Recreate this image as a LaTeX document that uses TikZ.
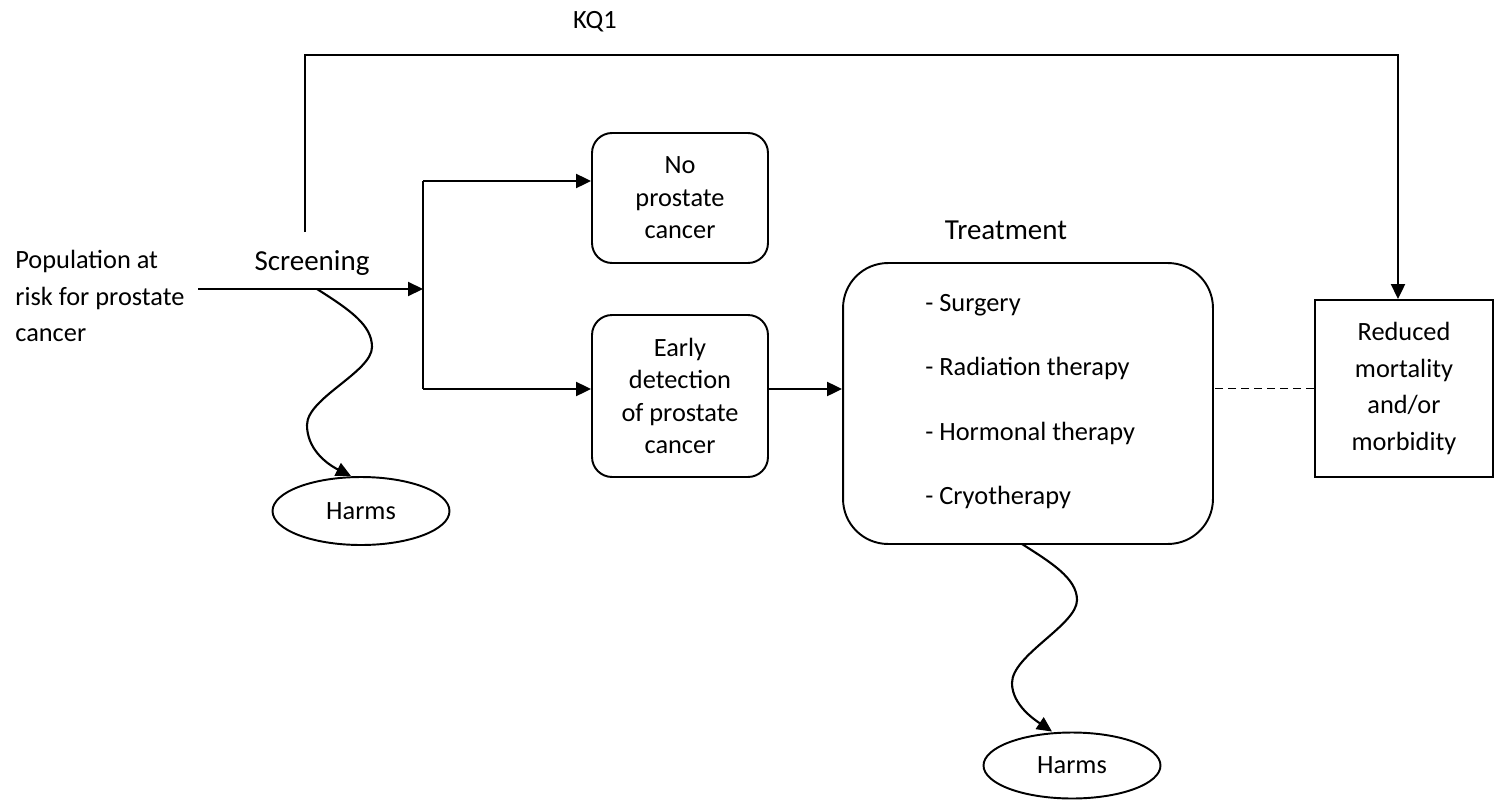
\documentclass[tikz,border=0pt]{standalone}
\usepackage{fontspec}
\setmainfont{Carlito}
\usetikzlibrary{shapes.geometric}
\usetikzlibrary{positioning}
\usetikzlibrary{arrows.meta}

\newcommand{\bodysize}{\fontsize{15}{18.5}\selectfont}
\newcommand{\widesize}{\fontsize{15}{21}\selectfont}
\newcommand{\headsize}{\fontsize{16.5}{20}\selectfont}

\tikzset{
  flow/.style={line width=1.2pt, -{Triangle[length=0.3cm,width=0.28cm]}},
  plainline/.style={line width=1.2pt},
  stagebox/.style={draw, line width=1.1pt, rounded corners=0.4cm, align=center,
    minimum width=3.52cm, font=\bodysize},
  harmsbox/.style={draw, ellipse, line width=1.1pt, minimum width=3.54cm,
    inner sep=0pt, font=\bodysize},
  outcomebox/.style={draw, line width=1.1pt, align=center, minimum width=3.56cm,
    minimum height=3.54cm, font=\widesize},
  item/.style={anchor=west, inner sep=0pt, font=\bodysize}
}

\begin{document}
\begin{tikzpicture}[x=0.02cm, y=-0.02cm]
\useasboundingbox (0,0) rectangle (1494,801);

% labels
\node[font=\bodysize] (kq) at (595,22) {KQ1};
\node[anchor=west, align=left, inner sep=0pt, font=\widesize] (pop) at (15,296)
  {Population at\\risk for prostate\\cancer};
\node[font=\headsize] (screen) at (312,263) {Screening};
\node[font=\headsize] (treatlabel) at (1006,230) {Treatment};

% boxes
\node[stagebox, minimum height=2.6cm] (nocancer) at (680,198) {No\\prostate\\cancer};
\node[stagebox, minimum height=3.24cm] (early) at (680,396)
  {Early\\detection\\of prostate\\cancer};
\node[draw, line width=1.1pt, rounded corners=0.9cm, minimum width=7.4cm,
  minimum height=5.62cm] (treat) at (1028,403.5) {};
\node[item] (surg) at (925,305) {- Surgery};
\node[item] (rad) at (925,368) {- Radiation therapy};
\node[item] (horm) at (925,433) {- Hormonal therapy};
\node[item] (cryo) at (925,497) {- Cryotherapy};
\node[outcomebox] (reduced) at (1404,388.5)
  {Reduced\\mortality\\and/or\\morbidity};
\node[harmsbox, minimum height=1.36cm] (harms1) at (361,511) {Harms};
\node[harmsbox, minimum height=1.32cm] (harms2) at (1072,765.5) {Harms};

% junction points
\coordinate (start) at (198,289);
\coordinate (split) at (423,289);
\coordinate (splittop) at (423,181);
\coordinate (splitbot) at (423,389);
\coordinate (kqstart) at (305,232);
\coordinate (kqtop) at (305,55);
\coordinate (kqdown) at (1398,55);
\coordinate (wig1) at (317,289);
\coordinate (wig2) at (1022,544);

% connectors
\draw[flow] (start) -- (split);
\draw[plainline] (splittop) -- (splitbot);
\draw[flow] (splittop) -- (nocancer.west |- splittop);
\draw[flow] (splitbot) -- (early.west |- splitbot);
\draw[flow] (early.east |- splitbot) -- (treat.west |- splitbot);
\draw[line width=1.1pt, dash pattern=on 0.16cm off 0.1cm]
  (reduced.west) -- (reduced.west -| treat.east);
\draw[flow] (kqstart) -- (kqtop) -- (kqdown) -- (kqdown |- reduced.north);

% harms
\draw[flow] (wig1) .. controls (350,310) and (372,325) .. (372,347)
  .. controls (372,372) and (307,398) .. (307,425)
  .. controls (307,448) and (325,463) .. ([xshift=-0.2cm]harms1.north);
\draw[flow] (wig2) .. controls (1050,562) and (1077,578) .. (1077,600)
  .. controls (1077,625) and (1012,655) .. (1012,683)
  .. controls (1012,705) and (1035,720) .. ([xshift=-0.4cm]harms2.north);
\end{tikzpicture}
\end{document}
